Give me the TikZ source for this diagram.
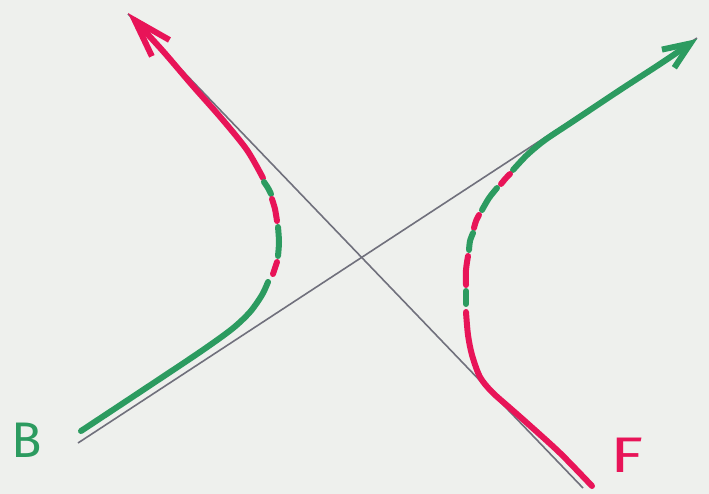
\documentclass[tikz,border=0pt]{standalone}
\usepackage{fontspec}
\setsansfont{Fira Sans}
\usetikzlibrary{arrows.meta}
\definecolor{pengreen}{RGB}{44,155,96}
\definecolor{penred}{RGB}{232,20,88}
\definecolor{asymgray}{RGB}{112,112,124}
\definecolor{paper}{RGB}{238,240,237}

\begin{document}
\begin{tikzpicture}[
      x=1pt, y=-1pt,
      font=\sffamily\fontsize{50}{50}\selectfont,
      pen/.style={line width=6pt, line cap=round, line join=round},
      grn/.style={pen, draw=pengreen},
      rd/.style={pen, draw=penred},
      asym/.style={draw=asymgray, line width=1.6pt},
      tipbig/.style={-{Straight Barb[length=38pt, width=24pt]}},
      tipsmall/.style={-{Straight Barb[length=27pt, width=22pt]}}
    ]
      \fill[paper] (0,0) rectangle (709,494);
      \coordinate (nw) at (128,14);
      \coordinate (se) at (583,488);
      \coordinate (sw) at (78,443);
      \coordinate (ne) at (697,38);
      \draw[asym] (nw) -- (se);
      \draw[asym] (sw) -- (ne);

      \draw[rd, tipbig] plot[smooth] coordinates
        {(263,178) (247,150) (222,119) (192,85) (162,50) (128,13)};
      \draw[grn] plot[smooth] coordinates {(264,182) (268,188) (271,194)};
      \draw[rd] plot[smooth] coordinates {(272,199) (275,209) (277,221)};
      \draw[grn] plot[smooth] coordinates {(278,227) (279,242) (278,256)};
      \draw[rd] plot[smooth] coordinates {(277,262) (275,268) (273,274)};
      \draw[grn] plot[smooth] coordinates
        {(268,282) (262,295) (250,312) (232,329) (200,352) (143,390) (81,431)};

      \draw[grn, tipsmall] plot[smooth] coordinates
        {(513,170) (527,155) (545,140) (572,122) (620,90) (660,64) (697,39)};
      \draw[rd] plot[smooth] coordinates {(510,174) (506,178) (501,184)};
      \draw[grn] plot[smooth] coordinates {(497,188) (489,198) (482,210)};
      \draw[rd] plot[smooth] coordinates {(479,215) (476,221) (474,228)};
      \draw[grn] plot[smooth] coordinates {(473,233) (470,241) (469,250)};
      \draw[rd] plot[smooth] coordinates {(468,256) (466,270) (466,285)};
      \draw[grn] plot[smooth] coordinates {(466,291) (466,297) (466,304)};
      \draw[rd] plot[smooth] coordinates
        {(466,312) (468,335) (472,355) (480,377) (492,392) (510,408) (527,423) (560,453) (592,486)};

      \node[text=pengreen, inner sep=0pt] (labB) at (27,440) {B};
      \node[text=penred, inner sep=0pt, xscale=1.35] (labF) at (627,455) {F};
    \end{tikzpicture}
\end{document}
